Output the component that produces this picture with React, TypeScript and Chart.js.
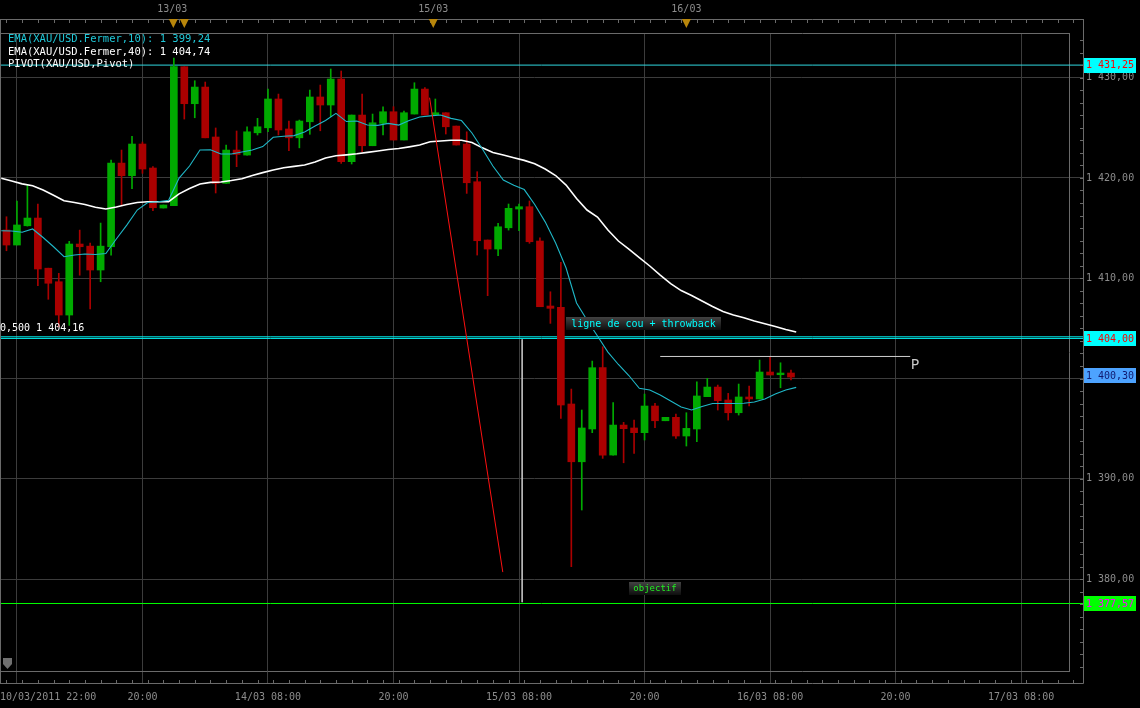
import React, { useEffect, useRef } from 'react';
import { Chart, registerables } from 'chart.js';
Chart.register(...registerables);

// ---- time axis (hours relative to 14/03 08:00) ----
const X_MIN = -25.62;
const X_MAX = 76.58;
const X_OVER = 77.92; // right end of level lines (into the axis gutter)
const Y_MIN = 1370.84;
const Y_MAX = 1434.45;

const hours = [-25,-24,-23,-22,-21,-20,-19,-18,-17,-16,-15,-14,-13,-12,-11,-10,-9,-8,-7,-6,-5,-4,-3,-2,-1,0,1,2,3,4,5,6,7,8,9,10,11,12,13,14,15,16,17,18,19,20,21,22,23,24,25,26,27,28,29,30,31,32,33,34,35,36,37,38,39,40,41,42,43,44,45,46,47,48,49,50];
const opens = [1414.81,1413.31,1415.23,1416.00,1411.00,1409.65,1406.33,1413.41,1413.20,1410.82,1413.14,1421.48,1420.22,1423.38,1420.99,1417.00,1417.23,1431.09,1427.40,1429.06,1424.08,1419.46,1422.78,1422.28,1424.50,1425.00,1427.87,1424.88,1424.00,1425.60,1428.07,1427.27,1429.86,1421.62,1426.27,1423.21,1425.44,1426.60,1423.78,1426.37,1428.86,1426.27,1426.50,1425.17,1423.38,1419.62,1413.81,1412.91,1415.03,1416.90,1417.13,1413.71,1407.23,1407.10,1397.46,1391.70,1394.97,1401.08,1392.37,1395.36,1395.07,1394.60,1397.26,1395.79,1396.13,1394.27,1394.97,1398.19,1399.15,1397.86,1396.59,1398.16,1397.96,1400.65,1400.38,1400.55];
const highs = [1416.13,1417.70,1419.30,1417.40,1411.00,1410.49,1413.68,1414.80,1413.50,1415.50,1421.79,1422.78,1424.14,1423.58,1421.12,1417.30,1431.95,1431.09,1429.69,1429.56,1424.98,1423.28,1424.68,1425.10,1425.94,1428.86,1428.36,1425.67,1425.77,1428.76,1429.26,1430.86,1430.66,1426.27,1428.36,1426.37,1427.10,1427.10,1426.67,1429.49,1429.00,1427.87,1426.50,1425.17,1424.60,1420.62,1413.81,1415.47,1417.40,1417.40,1417.70,1414.04,1408.65,1411.59,1398.95,1396.86,1401.74,1403.17,1397.59,1395.63,1395.86,1398.45,1397.53,1396.13,1396.46,1396.59,1399.68,1400.02,1399.35,1398.52,1399.45,1399.25,1401.84,1402.17,1401.57,1400.85];
const lows = [1412.74,1413.31,1415.20,1409.25,1407.90,1405.16,1405.30,1410.30,1406.93,1409.65,1412.30,1417.23,1418.92,1420.46,1416.73,1417.00,1417.23,1425.87,1426.00,1424.00,1418.50,1419.46,1421.12,1422.28,1424.28,1424.60,1424.28,1422.71,1423.00,1424.35,1424.70,1426.10,1421.45,1421.39,1422.61,1423.21,1424.28,1423.78,1423.78,1426.37,1426.27,1426.27,1424.38,1423.28,1418.46,1412.31,1408.26,1412.24,1414.80,1414.73,1413.48,1407.16,1405.50,1396.03,1381.24,1386.89,1394.60,1392.04,1392.37,1391.60,1392.54,1393.87,1395.10,1395.79,1394.04,1393.27,1393.70,1398.19,1396.86,1395.86,1396.36,1397.26,1397.96,1400.35,1399.08,1399.85];
const closes = [1413.31,1415.31,1416.00,1410.92,1409.50,1406.33,1413.41,1413.14,1410.82,1413.20,1421.48,1420.22,1423.38,1420.89,1417.03,1417.30,1431.09,1427.40,1429.06,1424.00,1419.46,1422.78,1422.35,1424.60,1425.10,1427.87,1424.78,1424.00,1425.67,1428.07,1427.27,1429.86,1421.62,1426.27,1423.21,1425.50,1426.60,1423.78,1426.50,1428.86,1426.27,1426.50,1425.10,1423.28,1419.52,1413.74,1412.91,1415.13,1416.97,1417.13,1413.64,1407.16,1407.00,1397.36,1391.70,1395.07,1401.08,1392.37,1395.36,1395.00,1394.60,1397.26,1395.79,1396.13,1394.27,1395.03,1398.26,1399.15,1397.79,1396.59,1398.16,1397.96,1400.65,1400.35,1400.55,1400.15];

// EMA points are plotted at the end of each hourly bar
const emaHours = [-25.5,-24.5,-23.5,-22.5,-21.5,-20.5,-19.5,-18.5,-17.5,-16.5,-15.5,-14.5,-13.5,-12.5,-11.5,-10.5,-9.5,-8.5,-7.5,-6.5,-5.5,-4.5,-3.5,-2.5,-1.5,-0.5,0.5,1.5,2.5,3.5,4.5,5.5,6.5,7.5,8.5,9.5,10.5,11.5,12.5,13.5,14.5,15.5,16.5,17.5,18.5,19.5,20.5,21.5,22.5,23.5,24.5,25.5,26.5,27.5,28.5,29.5,30.5,31.5,32.5,33.5,34.5,35.5,36.5,37.5,38.5,39.5,40.5,41.5,42.5,43.5,44.5,45.5,46.5,47.5,48.5,49.5,50.5];
const ema10 = [1414.74,1414.71,1414.58,1414.91,1414.06,1413.14,1412.14,1412.31,1412.41,1412.36,1412.46,1413.91,1415.30,1416.80,1417.55,1417.63,1417.77,1419.99,1421.19,1422.78,1422.80,1422.38,1422.38,1422.58,1422.78,1423.13,1424.05,1424.16,1424.22,1424.58,1425.17,1425.72,1426.44,1425.62,1425.67,1425.27,1425.24,1425.44,1425.27,1425.72,1426.07,1426.19,1426.27,1425.94,1425.72,1424.48,1422.88,1421.19,1419.79,1419.27,1418.84,1417.35,1415.62,1413.51,1411.02,1407.53,1405.83,1404.24,1402.64,1401.40,1400.30,1399.02,1398.85,1398.35,1397.76,1397.16,1396.86,1397.21,1397.51,1397.51,1397.51,1397.53,1397.66,1397.96,1398.45,1398.85,1399.12];
const ema40 = [1419.96,1419.69,1419.41,1419.23,1418.79,1418.28,1417.72,1417.55,1417.35,1417.08,1416.90,1417.10,1417.35,1417.55,1417.63,1417.63,1417.63,1418.41,1418.94,1419.39,1419.56,1419.59,1419.74,1419.92,1420.24,1420.53,1420.79,1421.02,1421.15,1421.29,1421.59,1421.98,1422.21,1422.30,1422.41,1422.55,1422.68,1422.83,1422.93,1423.10,1423.28,1423.61,1423.68,1423.76,1423.76,1423.53,1423.00,1422.53,1422.28,1422.02,1421.75,1421.41,1420.89,1420.24,1419.29,1417.95,1416.80,1416.10,1414.81,1413.71,1412.91,1412.06,1411.22,1410.32,1409.47,1408.77,1408.28,1407.73,1407.18,1406.68,1406.33,1406.06,1405.73,1405.46,1405.18,1404.89,1404.64];

// ---- tick labels ----
const xTickHours = [-24, -12, 0, 12, 24, 36, 48, 60, 72];
const xTickLabels = ['10/03/2011 22:00', '20:00', '14/03 08:00', '20:00', '15/03 08:00', '20:00', '16/03 08:00', '20:00', '17/03 08:00'];
const yTickValues = [1380, 1390, 1400, 1410, 1420, 1430];
const dayHours = [-9.15, 15.8, 40.0];
const dayLabels = ['13/03', '15/03', '16/03'];
const eventHours = [-9.05, -8.0, 15.8, 40.0];

// ---- drawn objects ----
const pivotLevel = 1431.25;
const fiboLevel = 1404.16;
const neckLevel = 1404.0;
const targetLevel = 1377.57;
const lastPrice = 1400.30;
const trendHours = [15.45, 22.45];
const trendValues = [1428.0, 1380.7];
const verticalHours = [24.3, 24.3];
const verticalValues = [1403.9, 1377.7];
const pHours = [37.5, 61.4];
const pValue = 1402.2;

const legendLines = ['EMA(XAU/USD.Fermer,10): 1 399,24', 'EMA(XAU/USD.Fermer,40): 1 404,74', 'PIVOT(XAU/USD,Pivot)'];
const fiboText = '0,500 1 404,16';
const neckText = 'ligne de cou + throwback';
const targetText = 'objectif';

const MONO = '"DejaVu Sans Mono", "Liberation Mono", monospace';
const GREEN = '#00aa00';
const RED = '#aa0000';
const GRID = '#3c3c3c';
const AXIS = '#6a6a6a';
const TXT = '#8c8c8c';

function fmt(v: number): string {
  const s = v.toFixed(2).replace('.', ',');
  const [i, d] = s.split(',');
  const ii = i.replace(/\B(?=(\d{3})+(?!\d))/g, ' ');
  return ii + ',' + d;
}

const overlay = {
  id: 'overlay',
  beforeDraw(chart: any) {
    const { ctx, width, height } = chart;
    ctx.save();
    ctx.fillStyle = '#000';
    ctx.fillRect(0, 0, width, height);
    ctx.restore();
  },
  afterDraw(chart: any) {
    const { ctx, chartArea: ca } = chart;
    const xs = chart.scales.x;
    const ys = chart.scales.y;
    const axRight = ca.right + 14;
    const axBottom = ca.bottom + 12;
    ctx.save();
    // frame and outer axis lines
    ctx.strokeStyle = AXIS;
    ctx.lineWidth = 1;
    ctx.beginPath();
    ctx.moveTo(ca.left + 0.5, 19);
    ctx.lineTo(ca.left + 0.5, axBottom);
    ctx.moveTo(0, 19.5);
    ctx.lineTo(axRight + 0.5, 19.5);
    ctx.moveTo(axRight + 0.5, 19);
    ctx.lineTo(axRight + 0.5, axBottom + 0.5);
    ctx.moveTo(0, axBottom + 0.5);
    ctx.lineTo(axRight + 0.5, axBottom + 0.5);
    ctx.stroke();
    // minor ticks on the price axis
    ctx.beginPath();
    for (let v = 1371.25; v < Y_MAX; v += 1.25) {
      const y = Math.round(ys.getPixelForValue(v)) + 0.5;
      ctx.moveTo(axRight - 3, y);
      ctx.lineTo(axRight + 0.5, y);
    }
    // minor ticks on both time axes
    for (let h = -25; h <= 77; h += 1.5) {
      const x = Math.round(xs.getPixelForValue(h)) + 0.5;
      if (x > axRight) break;
      ctx.moveTo(x, axBottom);
      ctx.lineTo(x, axBottom - 3);
      ctx.moveTo(x, 20);
      ctx.lineTo(x, 23);
    }
    ctx.stroke();

    // event markers on top axis
    ctx.fillStyle = '#b8860b';
    eventHours.forEach((h) => {
      const x = xs.getPixelForValue(h);
      ctx.beginPath();
      ctx.moveTo(x - 4.5, 19);
      ctx.lineTo(x + 4.5, 19);
      ctx.lineTo(x, 28);
      ctx.closePath();
      ctx.fill();
    });
    // bottom-left marker
    ctx.fillStyle = '#707070';
    ctx.beginPath();
    ctx.moveTo(3, 658);
    ctx.lineTo(12, 658);
    ctx.lineTo(12, 664);
    ctx.lineTo(7.5, 669);
    ctx.lineTo(3, 664);
    ctx.closePath();
    ctx.fill();

    // first time label (left aligned)
    ctx.font = '10px ' + MONO;
    ctx.fillStyle = TXT;
    ctx.textAlign = 'left';
    ctx.textBaseline = 'middle';
    ctx.fillText(xTickLabels[0], 0, 697);

    // legend
    ctx.font = '10.5px ' + MONO;
    ctx.fillStyle = '#1fc8d8';
    ctx.fillText(legendLines[0], 8, 39);
    ctx.fillStyle = '#ffffff';
    ctx.fillText(legendLines[1], 8, 52.5);
    ctx.fillText(legendLines[2], 8, 64);

    // fibo label
    ctx.font = '10px ' + MONO;
    ctx.fillStyle = '#ffffff';
    ctx.fillText(fiboText, 0, ys.getPixelForValue(fiboLevel) - 8);

    // annotation boxes
    const box = (text: string, x0: number, x1: number, yc: number, color: string, size: number) => {
      const g = ctx.createLinearGradient(0, yc - 7, 0, yc + 7);
      g.addColorStop(0, '#444444');
      g.addColorStop(1, '#0c0c0c');
      ctx.fillStyle = g;
      ctx.fillRect(x0, yc - 6.5, x1 - x0, 13);
      ctx.font = size + 'px ' + MONO;
      ctx.fillStyle = color;
      ctx.textAlign = 'center';
      ctx.fillText(text, (x0 + x1) / 2, yc + 0.5);
    };
    box(neckText, 566, 721, 323.5, '#00ffff', 10);
    box(targetText, 629, 681, 588.5, '#22ee22', 9);

    // P label
    ctx.font = '14px "DejaVu Sans", sans-serif';
    ctx.fillStyle = '#c8c8c8';
    ctx.textAlign = 'left';
    ctx.fillText('P', xs.getPixelForValue(pHours[1]) + 0.5, 365);

    // price tags
    const tag = (v: number, bg: string, fg: string) => {
      const y = ys.getPixelForValue(v);
      ctx.fillStyle = bg;
      ctx.fillRect(axRight + 1, Math.round(y - 7.5), 52, 15);
      ctx.font = '10px ' + MONO;
      ctx.fillStyle = fg;
      ctx.textAlign = 'center';
      ctx.fillText(fmt(v), axRight + 27, y + 0.5);
    };
    tag(pivotLevel, '#00ffff', '#ff0000');
    tag(neckLevel, '#00ffff', '#ff0000');
    tag(lastPrice, '#4da3ff', '#101a70');
    tag(targetLevel, '#00ff00', '#ff00ff');
    ctx.restore();
  },
};

export default function App() {
  const ref = useRef<HTMLCanvasElement | null>(null);
  useEffect(() => {
    if (!ref.current) return;
    const wick = hours.map((h, i) => ({ x: h, y: [lows[i], highs[i]] }));
    const body = hours.map((h, i) => ({ x: h, y: [opens[i], closes[i]] }));
    const col = hours.map((_, i) => (closes[i] >= opens[i] ? GREEN : RED));
    const level = (v: number) => [{ x: X_MIN, y: v }, { x: X_OVER, y: v }];
    const lineBase = { type: 'line', pointRadius: 0, tension: 0, borderWidth: 1, fill: false };
    const overflow = { left: 0, top: 0, right: 15, bottom: 0 };
    const chart = new Chart(ref.current, {
      type: 'bar',
      data: {
        datasets: [
          { ...lineBase, label: 'pivot', data: level(pivotLevel), borderColor: '#2fd8e0', clip: overflow, order: 5 },
          { ...lineBase, label: 'fibo', data: level(fiboLevel), borderColor: '#00f0f0', clip: overflow, order: 5 },
          { ...lineBase, label: 'neck', data: level(neckLevel), borderColor: '#00f0f0', clip: overflow, order: 5 },
          { ...lineBase, label: 'target', data: level(targetLevel), borderColor: '#00ff00', clip: overflow, order: 5 },
          { type: 'bar', label: 'wick', data: wick, backgroundColor: col, barThickness: 1, grouped: false, borderWidth: 0, order: 4 },
          { type: 'bar', label: 'body', data: body, backgroundColor: col, barThickness: 7, grouped: false, borderWidth: 0, minBarLength: 1, order: 3 },
          { ...lineBase, label: 'EMA40', data: emaHours.map((h, i) => ({ x: h, y: ema40[i] })), borderColor: '#ffffff', borderWidth: 1.6, order: 2 },
          { ...lineBase, label: 'EMA10', data: emaHours.map((h, i) => ({ x: h, y: ema10[i] })), borderColor: '#1fb8c8', borderWidth: 1.1, order: 1 },
          { ...lineBase, label: 'trend', data: trendHours.map((h, i) => ({ x: h, y: trendValues[i] })), borderColor: '#ff1010', order: 0 },
          { ...lineBase, label: 'vertical', data: verticalHours.map((h, i) => ({ x: h, y: verticalValues[i] })), borderColor: '#bdbdbd', order: 0 },
          { ...lineBase, label: 'P', data: pHours.map((h) => ({ x: h, y: pValue })), borderColor: '#d0d0d0', order: 0 },
        ] as any,
      },
      options: {
        animation: false,
        responsive: false,
        events: [],
        layout: { padding: 0 },
        plugins: { legend: { display: false }, tooltip: { enabled: false } },
        scales: {
          x: {
            type: 'linear',
            position: 'bottom',
            min: X_MIN,
            max: X_MAX,
            offset: false,
            afterBuildTicks: (s: any) => { s.ticks = xTickHours.map((v) => ({ value: v })); },
            afterFit: (s: any) => { s.height = 37; s.paddingLeft = 0; s.paddingRight = 0; },
            ticks: {
              autoSkip: false,
              maxRotation: 0,
              padding: 8,
              color: TXT,
              font: { family: MONO, size: 10 },
              callback: (_v: any, i: number) => (i === 0 ? '' : xTickLabels[i]),
            },
            grid: { color: GRID, tickLength: 12, drawTicks: true, offset: false },
            border: { display: true, color: AXIS },
          },
          xt: {
            type: 'linear',
            position: 'top',
            min: X_MIN,
            max: X_MAX,
            offset: false,
            afterBuildTicks: (s: any) => { s.ticks = dayHours.map((v) => ({ value: v })); },
            afterFit: (s: any) => { s.height = 33; s.paddingLeft = 0; s.paddingRight = 0; },
            ticks: {
              autoSkip: false,
              maxRotation: 0,
              padding: 18,
              color: TXT,
              font: { family: MONO, size: 10 },
              callback: (_v: any, i: number) => dayLabels[i],
            },
            grid: { display: false, drawTicks: false, offset: false },
            border: { display: true, color: AXIS },
          },
          y: {
            type: 'linear',
            position: 'right',
            min: Y_MIN,
            max: Y_MAX,
            afterBuildTicks: (s: any) => { s.ticks = yTickValues.map((v) => ({ value: v })); },
            afterFit: (s: any) => { s.width = 71; },
            ticks: {
              padding: 3,
              color: TXT,
              font: { family: MONO, size: 10 },
              callback: (v: any) => fmt(Number(v)),
            },
            grid: { color: GRID, tickLength: 14 },
            border: { display: true, color: AXIS },
          },
        },
      } as any,
      plugins: [overlay],
    });
    return () => chart.destroy();
  }, []);
  return (
    <div style={{ position: 'fixed', left: 0, top: 0, width: 1140, height: 708, background: '#000' }}>
      <canvas ref={ref} width={1140} height={708} style={{ display: 'block' }} />
    </div>
  );
}
